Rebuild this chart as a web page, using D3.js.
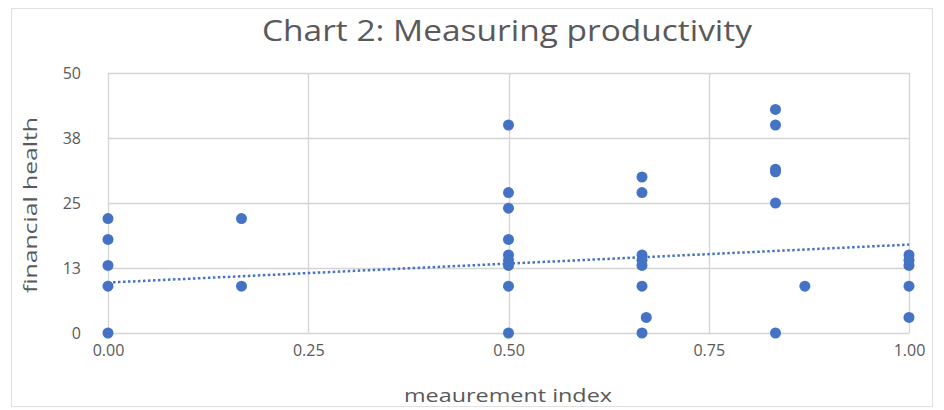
<!DOCTYPE html>
<html>
<head>
<meta charset="utf-8">
<script src="https://cdn.jsdelivr.net/npm/d3@7"></script>
<style>
  html, body { margin: 0; padding: 0; background: #fff; }
  svg { display: block; }
  text { font-family: "Open Sans", "Noto Sans", sans-serif; fill: #595959; }
</style>
</head>
<body>
<svg id="chart" width="944" height="410"></svg>
<script>
// ---- data ----
const xTicks = [0, 0.25, 0.5, 0.75, 1.0];
const xTickLabels = ["0.00", "0.25", "0.50", "0.75", "1.00"];
const yTicks = [0, 12.5, 25, 37.5, 50];
const yTickLabels = ["0", "13", "25", "38", "50"];

const pointX = [
  0, 0, 0, 0, 0,
  1/6, 1/6,
  0.5, 0.5, 0.5, 0.5, 0.5, 0.5, 0.5, 0.5, 0.5,
  2/3, 2/3, 2/3, 2/3, 2/3, 2/3, 0.672, 2/3,
  5/6, 5/6, 5/6, 5/6, 5/6, 5/6,
  0.87,
  1, 1, 1, 1, 1
];
const pointY = [
  22, 18, 13, 9, 0,
  22, 9,
  40, 27, 24, 18, 15, 14, 13, 9, 0,
  30, 27, 15, 14, 13, 9, 3, 0,
  43, 40, 31.5, 31, 25, 0,
  9,
  15, 14, 13, 9, 3
];
const trendX = [0, 1];
const trendY = [9.7, 17];

const title = "Chart 2: Measuring productivity";
const xTitle = "meaurement index";
const yTitle = "financial health";

// ---- layout ----
const svg = d3.select("#chart");
const plotL = 108, plotR = 909, plotT = 73, plotB = 333;

const x = d3.scaleLinear().domain([0, 1]).range([plotL, plotR]);
const y = d3.scaleLinear().domain([0, 50]).range([plotB, plotT]);

// chart area border
svg.append("rect")
  .attr("x", 11.5).attr("y", 8.5).attr("width", 921).attr("height", 398)
  .attr("fill", "none").attr("stroke", "#e0e0e0").attr("stroke-width", 1);

// gridlines
svg.append("g").selectAll("line").data(yTicks).join("line")
  .attr("x1", plotL).attr("x2", plotR)
  .attr("y1", d => Math.round(y(d)) + 0.5).attr("y2", d => Math.round(y(d)) + 0.5)
  .attr("stroke", "#d4d4d4").attr("stroke-width", 1.3);
svg.append("g").selectAll("line").data(xTicks).join("line")
  .attr("x1", d => Math.round(x(d)) + 0.5).attr("x2", d => Math.round(x(d)) + 0.5)
  .attr("y1", plotT).attr("y2", plotB)
  .attr("stroke", "#d4d4d4").attr("stroke-width", 1.3);

// axes (labels only)
const yAxis = d3.axisLeft(y).tickValues(yTicks).tickSize(0).tickPadding(0)
  .tickFormat((d, i) => yTickLabels[i]);
const gy = svg.append("g").attr("transform", `translate(${plotL - 27},0)`).call(yAxis);
gy.select(".domain").remove();
gy.selectAll("text").style("font-size", "16px").attr("fill", "#595959")
  .style("font-family", "'Open Sans', sans-serif");

const xAxis = d3.axisBottom(x).tickValues(xTicks).tickSize(0).tickPadding(0)
  .tickFormat((d, i) => xTickLabels[i]);
const gx = svg.append("g").attr("transform", `translate(0,${plotB + 12})`).call(xAxis);
gx.select(".domain").remove();
gx.selectAll("text").style("font-size", "16px").attr("fill", "#595959")
  .style("font-family", "'Open Sans', sans-serif");

// points
const pts = pointX.map((px, i) => ({ x: px, y: pointY[i] }));
svg.append("g").selectAll("circle").data(pts).join("circle")
  .attr("cx", d => x(d.x)).attr("cy", d => y(d.y)).attr("r", 5.5)
  .attr("fill", "#4472c4");

// trendline
const line = d3.line().x(d => x(d.x)).y(d => y(d.y));
svg.append("path")
  .datum(trendX.map((tx, i) => ({ x: tx, y: trendY[i] })))
  .attr("d", line)
  .attr("fill", "none").attr("stroke", "#4472c4").attr("stroke-width", 2.5)
  .attr("stroke-dasharray", "2.5,2.5");

// titles
svg.append("text").attr("x", 507).attr("y", 41).attr("text-anchor", "middle")
  .style("font-size", "29px").attr("textLength", 490).attr("lengthAdjust", "spacingAndGlyphs")
  .text(title);
svg.append("text").attr("x", 508).attr("y", 402).attr("text-anchor", "middle")
  .style("font-size", "19px").attr("textLength", 208).attr("lengthAdjust", "spacingAndGlyphs")
  .text(xTitle);
svg.append("text").attr("transform", "translate(37,205) rotate(-90)").attr("text-anchor", "middle")
  .style("font-size", "19px").attr("textLength", 176).attr("lengthAdjust", "spacingAndGlyphs")
  .text(yTitle);
</script>
</body>
</html>
